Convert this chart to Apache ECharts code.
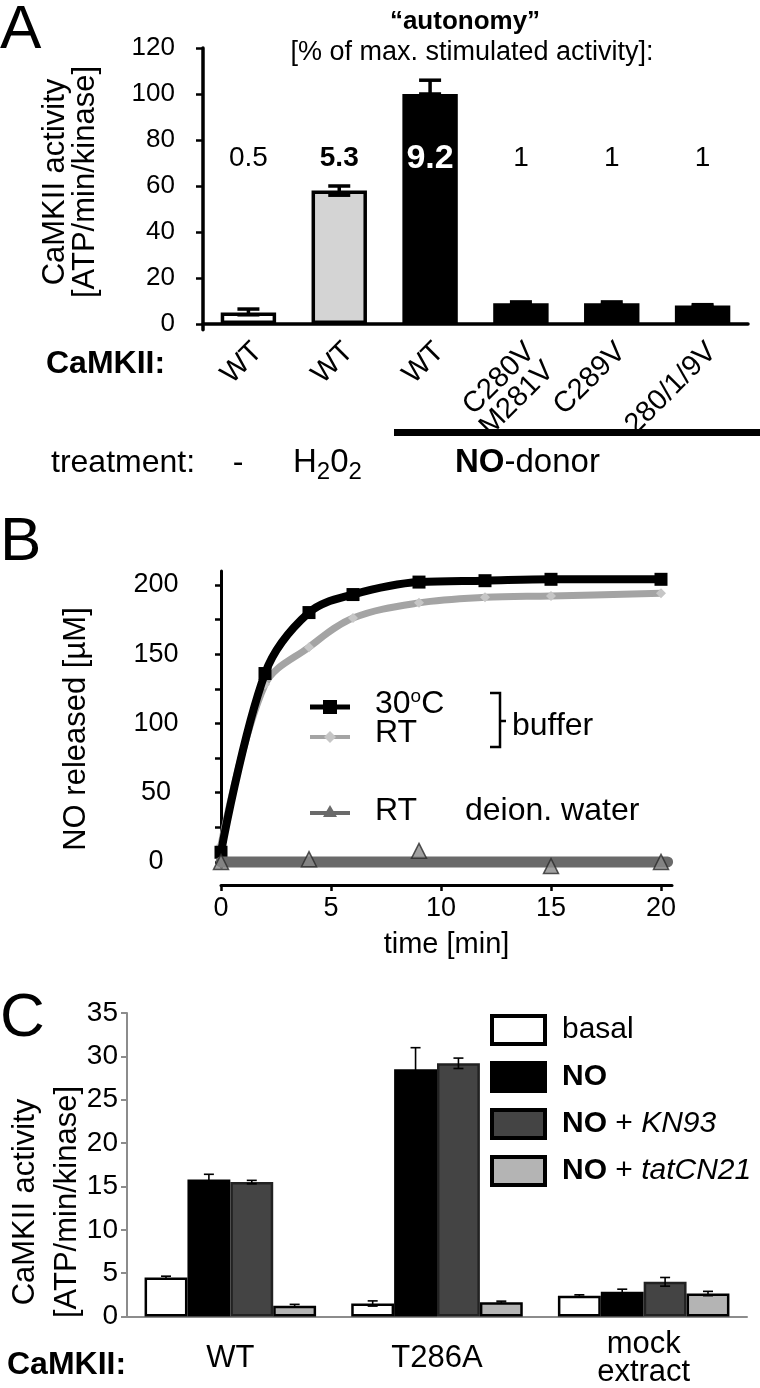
<!DOCTYPE html>
<html>
<head>
<meta charset="utf-8">
<script src="https://cdn.jsdelivr.net/npm/echarts@6/dist/echarts.min.js"></script>
<style>
  html, body { margin: 0; padding: 0; background: #fff; }
  #main { width: 760px; height: 1388px; }
</style>
</head>
<body>
<div id="main"></div>
<script>
// ---- panel A: CaMKII activity per mutant / treatment
var aCats = ['WT', 'WT', 'WT', 'C280V\nM281V', 'C289V', '280/1/9V'];
var aValues = [5, 58, 100, 9, 9, 8];
var aErrLow = [4, 56, 100, 8.5, 8.5, 7.7];
var aErrHigh = [6.5, 60, 106, 9.6, 9.6, 8.4];
var aAutonomy = ['0.5', '5.3', '9.2', '1', '1', '1'];
var aFill = ['#ffffff', '#d4d4d4', '#000000', '#000000', '#000000', '#000000'];
var aTicks = [0, 20, 40, 60, 80, 100, 120];

// ---- panel B: NO release over time
var bTime = [0, 2, 4, 6, 9, 12, 15, 20];
var b30C = [7, 136, 180, 193, 202, 203, 204, 204];
var bRT = [12, 128, 155, 176, 187, 191, 192, 194];
var bWaterTime = [0, 4, 9, 15, 20];
var bWater = [0, 2, 8, -3, 0];
var bWaterFitTime = [0, 20.3];
var bWaterFit = [0, 0];
var bYTicks = [0, 25, 50, 75, 100, 125, 150, 175, 200];
var bYLabels = [0, 50, 100, 150, 200];
var bXTicks = [0, 5, 10, 15, 20];

// ---- panel C: activity with inhibitors
var cCats = ['WT', 'T286A', 'mock\nextract'];
var cNames = ['basal', 'NO', 'NO + KN93', 'NO + tatCN21'];
var cBasal = [4.5, 1.5, 2.4];
var cBasalErr = [0.15, 0.3, 0.1];
var cNO = [15.8, 28.5, 2.85];
var cNOErr = [0.6, 2.5, 0.3];
var cKN93 = [15.5, 29.2, 4.0];
var cKN93Err = [0.2, 0.6, 0.5];
var cTat = [1.25, 1.65, 2.65];
var cTatErr = [0.15, 0.12, 0.25];

var FONT = '"Liberation Sans", Arial, sans-serif';
var chart = echarts.init(document.getElementById('main'));

function errRender(nGroups, gIdx, catGap, capHalf, lw) {
    return function (params, api) {
        var c = api.value(0);
        var lo = api.coord([c, api.value(1)]);
        var hi = api.coord([c, api.value(2)]);
        var band = api.size([1, 0])[0];
        var groupW = band * (1 - catGap);
        var barW = groupW / nGroups;
        var x = lo[0] - groupW / 2 + barW * (gIdx + 0.5);
        var st = { stroke: '#000', lineWidth: lw };
        return {
            type: 'group',
            children: [
                { type: 'line', shape: { x1: x, y1: lo[1], x2: x, y2: hi[1] }, style: st },
                { type: 'line', shape: { x1: x - capHalf, y1: lo[1], x2: x + capHalf, y2: lo[1] }, style: st },
                { type: 'line', shape: { x1: x - capHalf, y1: hi[1], x2: x + capHalf, y2: hi[1] }, style: st }
            ]
        };
    };
}

function pairs(xs, ys) {
    return xs.map(function (x, i) { return [x, ys[i]]; });
}

var cVals = [cBasal, cNO, cKN93, cTat];
var cErrs = [cBasalErr, cNOErr, cKN93Err, cTatErr];
var cFill = ['#ffffff', '#000000', '#444444', '#b4b4b4'];
var cBorder = ['#000', '#000', '#222', '#000'];
var C_GAP = 0.17;

var series = [];

// A bars
series.push({
    type: 'bar', xAxisIndex: 0, yAxisIndex: 0, barWidth: '61%',
    data: aValues.map(function (v, i) {
        return { value: v, itemStyle: { color: aFill[i], borderColor: '#000', borderWidth: 3.5 } };
    }),
    silent: true
});
series.push({
    type: 'custom', xAxisIndex: 0, yAxisIndex: 0,
    renderItem: errRender(1, 0, 0.39, 11, 3.5),
    data: aValues.map(function (v, i) { return [i, aErrLow[i], aErrHigh[i]]; }),
    z: 5
});
// autonomy numbers, written at a fixed height above the bars
var AUTO_LEVEL = 72;
series.push({
    type: 'custom', xAxisIndex: 0, yAxisIndex: 0,
    renderItem: function (params, api) {
        var i = params.dataIndex;
        var p = api.coord([i, AUTO_LEVEL]);
        var bold = i === 1 || i === 2;
        return {
            type: 'text', x: p[0], y: p[1],
            style: {
                text: aAutonomy[i], align: 'center', verticalAlign: 'middle',
                fontFamily: FONT, fontSize: i === 2 ? 34 : 28,
                fontWeight: bold ? 'bold' : 'normal',
                fill: i === 2 ? '#fff' : '#000'
            }
        };
    },
    data: aAutonomy.map(function (t, i) { return [i, AUTO_LEVEL]; }),
    z: 6
});

// B curves
series.push({
    type: 'line', name: 'RT', xAxisIndex: 1, yAxisIndex: 1,
    data: pairs(bTime, bRT), smooth: 0.35,
    symbol: 'diamond', symbolSize: 10,
    itemStyle: { color: '#c6c6c6' },
    lineStyle: { color: '#a4a4a4', width: 7 }, z: 3
});
series.push({
    type: 'line', name: '30C', xAxisIndex: 1, yAxisIndex: 1,
    data: pairs(bTime, b30C), smooth: 0.35,
    symbol: 'rect', symbolSize: 13,
    itemStyle: { color: '#000' },
    lineStyle: { color: '#000', width: 8 }, z: 4
});
series.push({
    type: 'line', name: 'water fit', xAxisIndex: 1, yAxisIndex: 1,
    data: pairs(bWaterFitTime, bWaterFit), showSymbol: false, symbol: 'none',
    lineStyle: { color: '#6a6a6a', width: 11, cap: 'round' }, z: 5
});
series.push({
    type: 'scatter', name: 'water', xAxisIndex: 1, yAxisIndex: 1,
    data: pairs(bWaterTime, bWater),
    symbol: 'triangle', symbolSize: 15,
    itemStyle: { color: '#8a8a8a', borderColor: '#2a2a2a', borderWidth: 1.5 }, z: 6
});

// C bars + error bars
cNames.forEach(function (name, k) {
    series.push({
        type: 'bar', name: name, xAxisIndex: 2, yAxisIndex: 2,
        barGap: 0, barCategoryGap: (C_GAP * 100) + '%',
        data: cVals[k],
        itemStyle: { color: cFill[k], borderColor: cBorder[k], borderWidth: 2.5 },
        silent: true
    });
});
cNames.forEach(function (name, k) {
    series.push({
        type: 'custom', xAxisIndex: 2, yAxisIndex: 2,
        renderItem: errRender(4, k, C_GAP, 5, 1.6),
        data: cVals[k].map(function (v, i) { return [i, v - cErrs[k][i], v + cErrs[k][i]]; }),
        z: 5
    });
});

function legendText(name) {
    if (name === 'basal') return '{r0|basal}';
    if (name === 'NO') return '{b0|NO}';
    var parts = name.split(' + ');
    return '{b0|NO}{r| + }{i|' + parts[1] + '}';
}

var option = {
    animation: false,
    backgroundColor: '#fff',
    textStyle: { fontFamily: FONT },
    grid: [
        { left: 203, top: 48, width: 545, height: 281.75 },
        { left: 221, top: 571, width: 451, height: 296.5 },
        { left: 127, top: 1013, width: 620, height: 310 }
    ],
    xAxis: [
        {
            gridIndex: 0, type: 'category', data: aCats,
            axisLine: { lineStyle: { color: '#000', width: 3.5 } },
            axisTick: { length: 6, lineStyle: { color: '#999', width: 1 } },
            axisLabel: { rotate: 45, fontSize: 29, color: '#000', margin: 8, verticalAlign: 'top', lineHeight: 27, fontFamily: FONT }
        },
        {
            gridIndex: 1, type: 'value', min: 0, max: 20.5, offset: 17.5,
            axisLine: { onZero: false, lineStyle: { color: '#000', width: 3 } },
            axisTick: { customValues: bXTicks, length: 6, lineStyle: { color: '#000', width: 2.5 } },
            axisLabel: { customValues: bXTicks, fontSize: 27, color: '#000', margin: 10, fontFamily: FONT },
            splitLine: { show: false },
            name: 'time [min]', nameLocation: 'middle', nameGap: 45,
            nameTextStyle: { fontSize: 29, color: '#000', fontFamily: FONT }
        },
        {
            gridIndex: 2, type: 'category', data: cCats,
            axisLine: { lineStyle: { color: '#8c8c8c', width: 2 } },
            axisTick: { length: 7, lineStyle: { color: '#8c8c8c', width: 2 } },
            axisLabel: { fontSize: 31, color: '#000', margin: 42, verticalAlign: 'middle', lineHeight: 28, fontFamily: FONT }
        }
    ],
    yAxis: [
        {
            gridIndex: 0, type: 'value', min: -2.5, max: 120,
            axisLine: { show: true, lineStyle: { color: '#000', width: 3.5 } },
            axisTick: { show: true, customValues: aTicks, length: 7, lineStyle: { color: '#000', width: 2.5 } },
            axisLabel: { customValues: aTicks, fontSize: 26, color: '#000', margin: 28, fontFamily: FONT },
            splitLine: { show: false }
        },
        {
            gridIndex: 1, type: 'value', min: -4, max: 210,
            axisLine: { show: true, onZero: false, lineStyle: { color: '#000', width: 3 } },
            axisTick: { show: true, customValues: bYTicks, length: 6, lineStyle: { color: '#000', width: 2.5 } },
            axisLabel: { customValues: bYLabels, align: 'center', margin: 65, fontSize: 27, color: '#000', fontFamily: FONT },
            splitLine: { show: false }
        },
        {
            gridIndex: 2, type: 'value', min: 0, max: 35, interval: 5,
            axisLine: { show: true, lineStyle: { color: '#8c8c8c', width: 2 } },
            axisTick: { show: true, length: 6, lineStyle: { color: '#8c8c8c', width: 2 } },
            axisLabel: { fontSize: 28, color: '#000', margin: 9, fontFamily: FONT },
            splitLine: { show: false }
        }
    ],
    legend: {
        data: cNames, orient: 'vertical', left: 490, top: 1014, padding: 0,
        itemWidth: 53, itemHeight: 28, itemGap: 15, icon: 'rect',
        selectedMode: false,
        itemStyle: { borderWidth: 4, borderColor: '#000' },
        formatter: legendText,
        textStyle: {
            fontSize: 30, color: '#000', fontFamily: FONT, lineHeight: 30,
            rich: {
                r0: { fontSize: 30, lineHeight: 30, padding: [0, 0, 0, 12] },
                b0: { fontSize: 30, lineHeight: 30, fontWeight: 'bold', padding: [0, 0, 0, 12] },
                r: { fontSize: 30, lineHeight: 30 },
                i: { fontSize: 30, lineHeight: 30, fontStyle: 'italic' }
            }
        }
    },
    graphic: [
        // panel letters
        { type: 'text', left: 0, top: 0, style: { text: 'A', fontSize: 62, fontFamily: FONT, fill: '#000' } },
        { type: 'text', left: 0, top: 512, style: { text: 'B', fontSize: 62, fontFamily: FONT, fill: '#000' } },
        { type: 'text', left: 0, top: 988, style: { text: 'C', fontSize: 62, fontFamily: FONT, fill: '#000' } },
        // panel A header
        { type: 'text', x: 465, y: 22, style: { text: '\u201cautonomy\u201d', align: 'center', verticalAlign: 'middle', fontSize: 26, fontWeight: 'bold', fontFamily: FONT, fill: '#000' } },
        { type: 'text', x: 472, y: 53, style: { text: '[% of max. stimulated activity]:', align: 'center', verticalAlign: 'middle', fontSize: 27, fontFamily: FONT, fill: '#000' } },
        // y axis titles
        { type: 'text', x: 70, y: 182, rotation: Math.PI / 2, style: { text: 'CaMKII activity\n[ATP/min/kinase]', align: 'center', verticalAlign: 'middle', fontSize: 31, lineHeight: 30, fontFamily: FONT, fill: '#000' } },
        { type: 'text', x: 76, y: 729, rotation: Math.PI / 2, style: { text: 'NO released [\u00b5M]', align: 'center', verticalAlign: 'middle', fontSize: 31, fontFamily: FONT, fill: '#000' } },
        { type: 'text', x: 46, y: 1202, rotation: Math.PI / 2, style: { text: 'CaMKII activity\n[ATP/min/kinase]', align: 'center', verticalAlign: 'middle', fontSize: 31, lineHeight: 42, fontFamily: FONT, fill: '#000' } },
        // panel A row labels
        { type: 'text', x: 46, y: 364, style: { text: 'CaMKII:', verticalAlign: 'middle', fontSize: 32, fontWeight: 'bold', fontFamily: FONT, fill: '#000' } },
        { type: 'rect', shape: { x: 394, y: 429, width: 366, height: 7 }, style: { fill: '#000' } },
        { type: 'text', x: 51, y: 463, style: { text: 'treatment:', verticalAlign: 'middle', fontSize: 32, fontFamily: FONT, fill: '#000' } },
        { type: 'text', x: 238, y: 463, style: { text: '-', align: 'center', verticalAlign: 'middle', fontSize: 32, fontFamily: FONT, fill: '#000' } },
        {
            type: 'text', x: 293, y: 463,
            style: {
                text: '{n|H}{s|2}{n|0}{s|2}', verticalAlign: 'middle', fontFamily: FONT, fill: '#000',
                rich: { n: { fontSize: 33, fontFamily: FONT }, s: { fontSize: 24, fontFamily: FONT, padding: [18, 0, 0, 0] } }
            }
        },
        {
            type: 'text', x: 455, y: 463,
            style: {
                text: '{b|NO}{n|-donor}', verticalAlign: 'middle', fontFamily: FONT, fill: '#000',
                rich: { b: { fontSize: 33, fontWeight: 'bold', fontFamily: FONT }, n: { fontSize: 33, fontFamily: FONT } }
            }
        },
        // panel B legend
        { type: 'line', shape: { x1: 310, y1: 707, x2: 350, y2: 707 }, style: { stroke: '#000', lineWidth: 5 } },
        { type: 'rect', shape: { x: 323, y: 700, width: 14, height: 14 }, style: { fill: '#000' } },
        { type: 'line', shape: { x1: 310, y1: 737, x2: 350, y2: 737 }, style: { stroke: '#a4a4a4', lineWidth: 4 } },
        { type: 'polygon', shape: { points: [[330, 731], [336, 737], [330, 743], [324, 737]] }, style: { fill: '#c6c6c6' } },
        { type: 'line', shape: { x1: 310, y1: 813, x2: 350, y2: 813 }, style: { stroke: '#6a6a6a', lineWidth: 4 } },
        { type: 'polygon', shape: { points: [[330, 805], [337, 817], [323, 817]] }, style: { fill: '#6a6a6a' } },
        {
            type: 'text', x: 375, y: 704,
            style: {
                text: '{n|30}{s|o}{n|C}', verticalAlign: 'middle', fontFamily: FONT, fill: '#000',
                rich: { n: { fontSize: 32, fontFamily: FONT }, s: { fontSize: 19, fontFamily: FONT, padding: [0, 0, 14, 0] } }
            }
        },
        { type: 'text', x: 375, y: 733, style: { text: 'RT', verticalAlign: 'middle', fontSize: 32, fontFamily: FONT, fill: '#000' } },
        { type: 'polyline', shape: { points: [[490, 693], [500, 693], [500, 747], [490, 747]] }, style: { stroke: '#000', lineWidth: 2.5, fill: null } },
        { type: 'line', shape: { x1: 500, y1: 721, x2: 506, y2: 721 }, style: { stroke: '#000', lineWidth: 2.5 } },
        { type: 'text', x: 512, y: 726, style: { text: 'buffer', verticalAlign: 'middle', fontSize: 32, fontFamily: FONT, fill: '#000' } },
        { type: 'text', x: 375, y: 811, style: { text: 'RT', verticalAlign: 'middle', fontSize: 32, fontFamily: FONT, fill: '#000' } },
        { type: 'text', x: 465, y: 811, style: { text: 'deion. water', verticalAlign: 'middle', fontSize: 32, fontFamily: FONT, fill: '#000' } },
        // panel C row label
        { type: 'text', x: 7, y: 1365, style: { text: 'CaMKII:', verticalAlign: 'middle', fontSize: 32, fontWeight: 'bold', fontFamily: FONT, fill: '#000' } }
    ],
    series: series
};

chart.setOption(option);
</script>
</body>
</html>
